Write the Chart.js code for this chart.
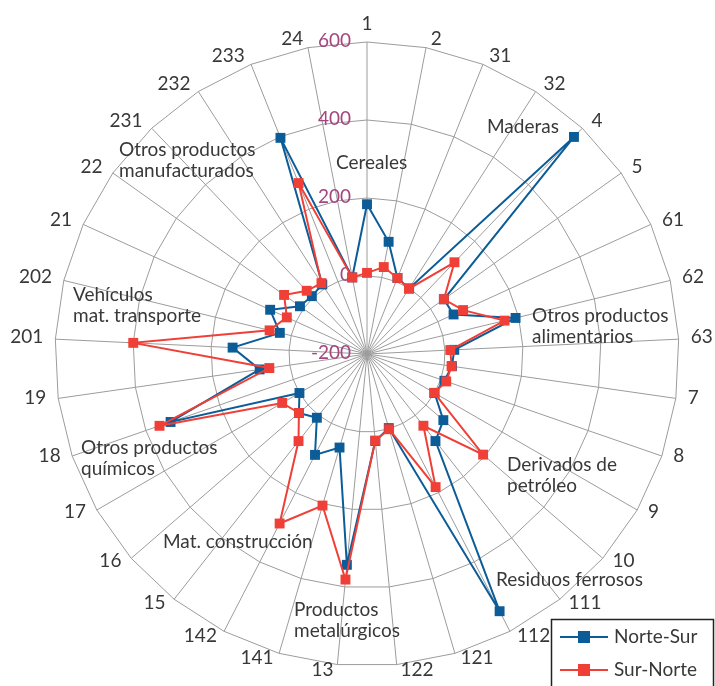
<!DOCTYPE html>
<html><head><meta charset="utf-8">
<script src="https://cdn.jsdelivr.net/npm/chart.js@4/dist/chart.umd.min.js"></script>
<style>html,body{margin:0;padding:0;background:#fff;overflow:hidden}#wrap{position:relative;width:715px;height:686px}</style>
</head><body><div id="wrap"><canvas id="c" width="715" height="686"></canvas></div>
<script>
const categories = ['1','2','31','32','4','5','61','62','63','7','8','9','10','111','112','121','122','13','141','142','15','16','17','18','19','201','202','21','22','231','232','233','24'];
const norteSur = [184, 93, 10, 0, 569, 42, 44, 192, 24, 20, 10, 0, 59, 84, 542, -2, 24, 343, 50, 91, 8, 31, 0, 333, 78, 145, 30, 73, 11, 5, 12, 397, 0];
const surNorte = [8, 27, 10, -1, 125, 42, 71, 163, 14, 19, 15, -1, 194, 34, 184, 1, 23, 381, 205, 289, 84, 31, 51, 363, 53, 400, 57, 26, 61, 24, 16, 272, 0];
const tickValues = [-200, 0, 200, 400, 600];
const seriesNames = ['Norte-Sur', 'Sur-Norte'];
const seriesColors = ['#0b5c97', '#ef3f36'];
const groupTexts = [
  ['Cereales'], ['Maderas'], ['Otros productos', 'alimentarios'], ['Derivados de', 'petróleo'],
  ['Residuos ferrosos'], ['Productos', 'metalúrgicos'], ['Mat. construcción'],
  ['Otros productos', 'químicos'], ['Vehículos', 'mat. transporte'], ['Otros productos', 'manufacturados']
];
// layout (text anchor positions, left-aligned, first-line centre)
const groupAnchors = [[336,163],[487,127],[532,316],[507,465],[496,580],[294,610],[163,542],[81,448],[73,295],[119,150]];

const FONT = 'Lato, "Open Sans", sans-serif';
const TEXT = '#383838';

const overlay = {
  id: 'overlay',
  beforeDatasetsDraw(chart) {
    const r = chart.scales.r, ctx = chart.ctx;
    const cx = r.xCenter, cy = r.yCenter;
    ctx.save();
    ctx.font = '19px ' + FONT;
    // tick labels
    ctx.fillStyle = '#a3457f';
    ctx.textAlign = 'right';
    ctx.textBaseline = 'middle';
    tickValues.forEach(v => {
      const d = r.getDistanceFromCenterForValue(v);
      ctx.fillText(String(v), cx - 16, cy - d - 1);
    });
    // point labels
    ctx.fillStyle = TEXT;
    categories.forEach((lab, i) => {
      const a = r.getIndexAngle(i);
      const s = Math.sin(a), c = Math.cos(a);
      const p = r.getPointPosition(i, r.drawingArea);
      let x, y;
      if (Math.abs(s) < 0.05) {
        ctx.textAlign = 'center';
        x = p.x; y = p.y - (c > 0 ? 18 : -18);
      } else {
        ctx.textAlign = s > 0 ? 'left' : 'right';
        x = p.x + Math.sign(s) * (3 + 9 * Math.abs(s));
        y = p.y - 7 * c - 2;
      }
      ctx.fillText(lab, x, y);
    });
    // group labels
    ctx.textAlign = 'left';
    groupTexts.forEach((lines, k) => {
      const [gx, gy] = groupAnchors[k];
      lines.forEach((ln, j) => ctx.fillText(ln, gx, gy + j * 20.5));
    });
    ctx.restore();
  },
  afterDraw(chart) {
    const ctx = chart.ctx;
    ctx.save();
    ctx.fillStyle = '#fff';
    ctx.fillRect(551.5, 619.5, 162, 80);
    ctx.strokeStyle = '#222';
    ctx.lineWidth = 1.5;
    ctx.strokeRect(551.5, 619.5, 162, 80);
    ctx.font = '19px ' + FONT;
    ctx.textAlign = 'left';
    ctx.textBaseline = 'middle';
    seriesNames.forEach((nm, k) => {
      const y = 637 + k * 33;
      ctx.strokeStyle = seriesColors[k];
      ctx.lineWidth = 2;
      ctx.beginPath(); ctx.moveTo(560, y); ctx.lineTo(608, y); ctx.stroke();
      ctx.fillStyle = seriesColors[k];
      ctx.fillRect(578, y - 6, 12, 12);
      ctx.fillStyle = TEXT;
      ctx.fillText(nm, 614, y);
    });
    ctx.restore();
  }
};

new Chart(document.getElementById('c'), {
  type: 'radar',
  data: {
    labels: categories,
    datasets: [
      { label: seriesNames[0], data: norteSur, borderColor: seriesColors[0], backgroundColor: seriesColors[0],
        pointBackgroundColor: seriesColors[0], pointBorderWidth: 0, pointStyle: 'rect', pointRadius: 7,
        borderWidth: 2, fill: false, order: 1 },
      { label: seriesNames[1], data: surNorte, borderColor: seriesColors[1], backgroundColor: seriesColors[1],
        pointBackgroundColor: seriesColors[1], pointBorderWidth: 0, pointStyle: 'rect', pointRadius: 7,
        borderWidth: 2, fill: false, order: 0 }
    ]
  },
  options: {
    responsive: false, animation: false, devicePixelRatio: 1,
    layout: { padding: { left: 55, top: 42, right: 35, bottom: 20 } },
    plugins: { legend: { display: false }, tooltip: { enabled: false } },
    elements: { line: { tension: 0 } },
    scales: {
      r: {
        min: -200, max: 600, beginAtZero: false,
        ticks: { display: false, stepSize: 200 },
        pointLabels: { display: false },
        grid: { color: '#9c9c9c', lineWidth: 1 },
        angleLines: { color: '#9c9c9c', lineWidth: 1 }
      }
    }
  },
  plugins: [overlay]
});
</script>
</body></html>
